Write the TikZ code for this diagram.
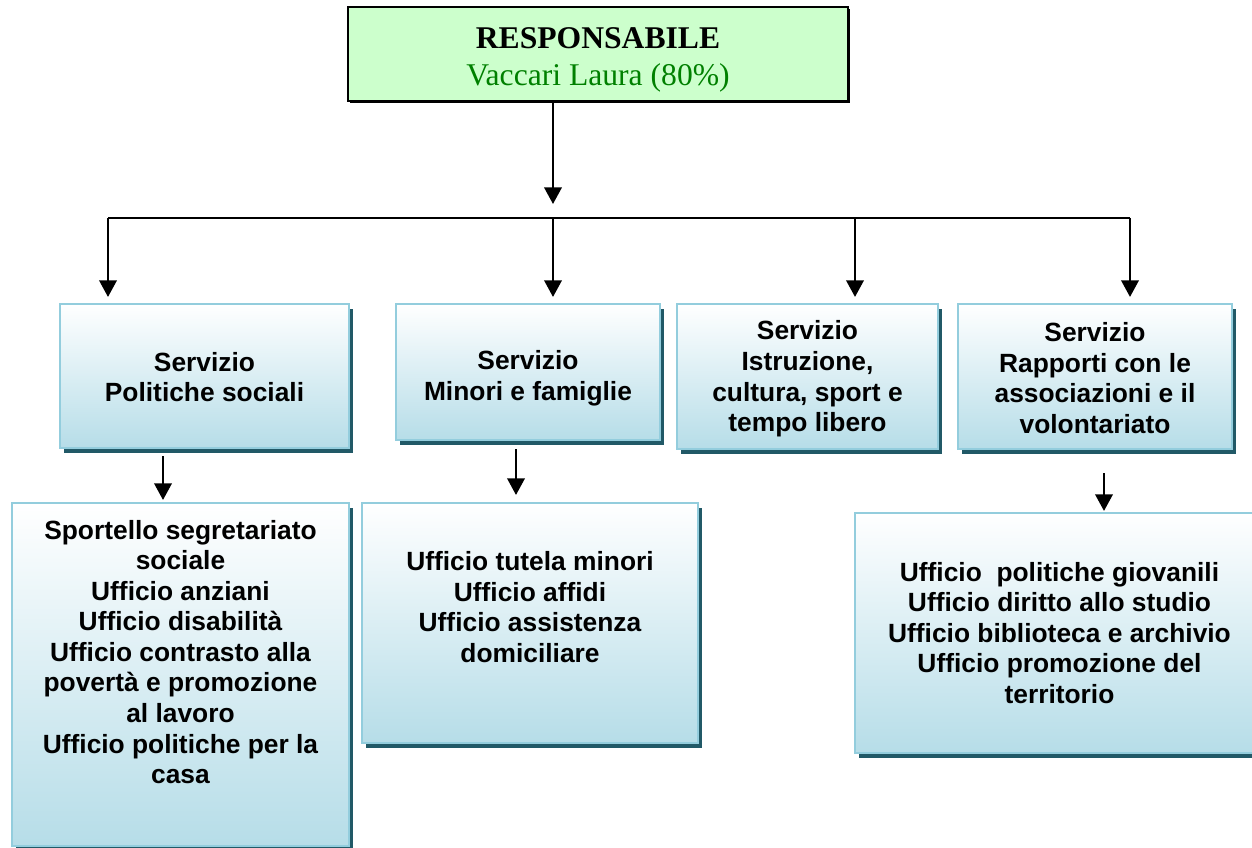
\documentclass[tikz,border=0pt]{standalone}
\usepackage{fontspec}
\setmainfont{Liberation Serif}
\setsansfont{Liberation Sans}
\usetikzlibrary{arrows.meta,shadows}

\newlength\px
\setlength\px{0.02cm}

\definecolor{verdecapo}{HTML}{CCFFCC}
\definecolor{verdetesto}{HTML}{008000}
\definecolor{bordoblu}{HTML}{93CDDD}
\definecolor{fondoblu}{HTML}{B6DDE8}
\definecolor{ombrablu}{HTML}{215967}

\tikzset{
  capo/.style={draw=black, line width=1pt, fill=verdecapo, inner sep=0pt,
    drop shadow={shadow xshift=2\px, shadow yshift=-2\px, fill=black, opacity=1}},
  scatola/.style={draw=bordoblu, line width=1.2pt, top color=white,
    bottom color=fondoblu, inner sep=0pt,
    drop shadow={shadow xshift=4\px, shadow yshift=-5\px, fill=ombrablu, opacity=1}},
  titolo/.style={align=center, inner sep=0pt, font=\fontsize{18}{21}\selectfont},
  testo/.style={align=center, inner sep=0pt,
    font=\sffamily\bfseries\fontsize{15}{17.4}\selectfont},
  freccia/.style={line width=1.2pt, -{Triangle[width=10pt,length=9.5pt]}},
}

\begin{document}
\begin{tikzpicture}[x=1\px, y=-1\px]
  \useasboundingbox (0,0) rectangle (1252,848);
  \clip (0,0) rectangle (1252,848);

  % responsabile
  \node[capo, minimum width=500\px, minimum height=94\px] (capo) at (598,54) {};
  \node[titolo] (capot) at (598,60)
    {\textbf{RESPONSABILE}\\\textcolor{verdetesto}{Vaccari Laura (80\%)}};

  % servizi
  \node[scatola, minimum width=289\px, minimum height=144\px] (s1) at (204.5,376) {};
  \node[testo] (s1t) at (204.5,377) {Servizio\\Politiche sociali};
  \node[scatola, minimum width=264\px, minimum height=136\px] (s2) at (528,372) {};
  \node[testo] (s2t) at (528,378) {Servizio\\Minori e famiglie};
  \node[scatola, minimum width=261\px, minimum height=145\px] (s3) at (807.5,376.5) {};
  \node[testo] (s3t) at (807.5,379)
    {Servizio\\Istruzione,\\cultura, sport e\\tempo libero};
  \node[scatola, minimum width=274\px, minimum height=145\px] (s4) at (1095,376.5) {};
  \node[testo] (s4t) at (1095,378)
    {Servizio\\Rapporti con le\\associazioni e il\\volontariato};

  % uffici
  \node[scatola, minimum width=337\px, minimum height=343\px] (u1) at (180.5,674.5) {};
  \node[testo] (u1t) at (180.5,652)
    {Sportello segretariato\\sociale\\Ufficio anziani\\Ufficio disabilità\\Ufficio contrasto alla\\povertà e promozione\\al lavoro\\Ufficio politiche per la\\casa};
  \node[scatola, minimum width=336\px, minimum height=240\px] (u2) at (530,623) {};
  \node[testo] (u2t) at (530,607)
    {Ufficio tutela minori\\Ufficio affidi\\Ufficio assistenza\\domiciliare};
  \node[scatola, minimum width=409\px, minimum height=240\px] (u4) at (1059.5,633) {};
  \node[testo] (u4t) at (1059.5,633)
    {Ufficio~ politiche giovanili\\Ufficio diritto allo studio\\Ufficio biblioteca e archivio\\Ufficio promozione del\\territorio};

  % collegamenti
  \coordinate (snodo) at (553,204);
  \coordinate (barrasx) at (108,218);
  \coordinate (barradx) at (1130,218);
  \draw[freccia] (capo.south -| snodo) -- (snodo);
  \draw[line width=1pt] (barrasx) -- (barradx);
  \foreach \x/\n in {108/s1, 553/s2, 855/s3, 1130/s4}
    \draw[freccia] (\x,218) -- ([yshift=6\px]\n.north -| \x,0);
  \draw[freccia] ([yshift=-7\px]s1.south -| 163,0) -- ([yshift=2\px]u1.north -| 163,0);
  \draw[freccia] ([yshift=-8\px]s2.south -| 516,0) -- ([yshift=7\px]u2.north -| 516,0);
  \draw[freccia] ([yshift=-23\px]s4.south -| 1104,0) -- ([yshift=1\px]u4.north -| 1104,0);
\end{tikzpicture}
\end{document}
